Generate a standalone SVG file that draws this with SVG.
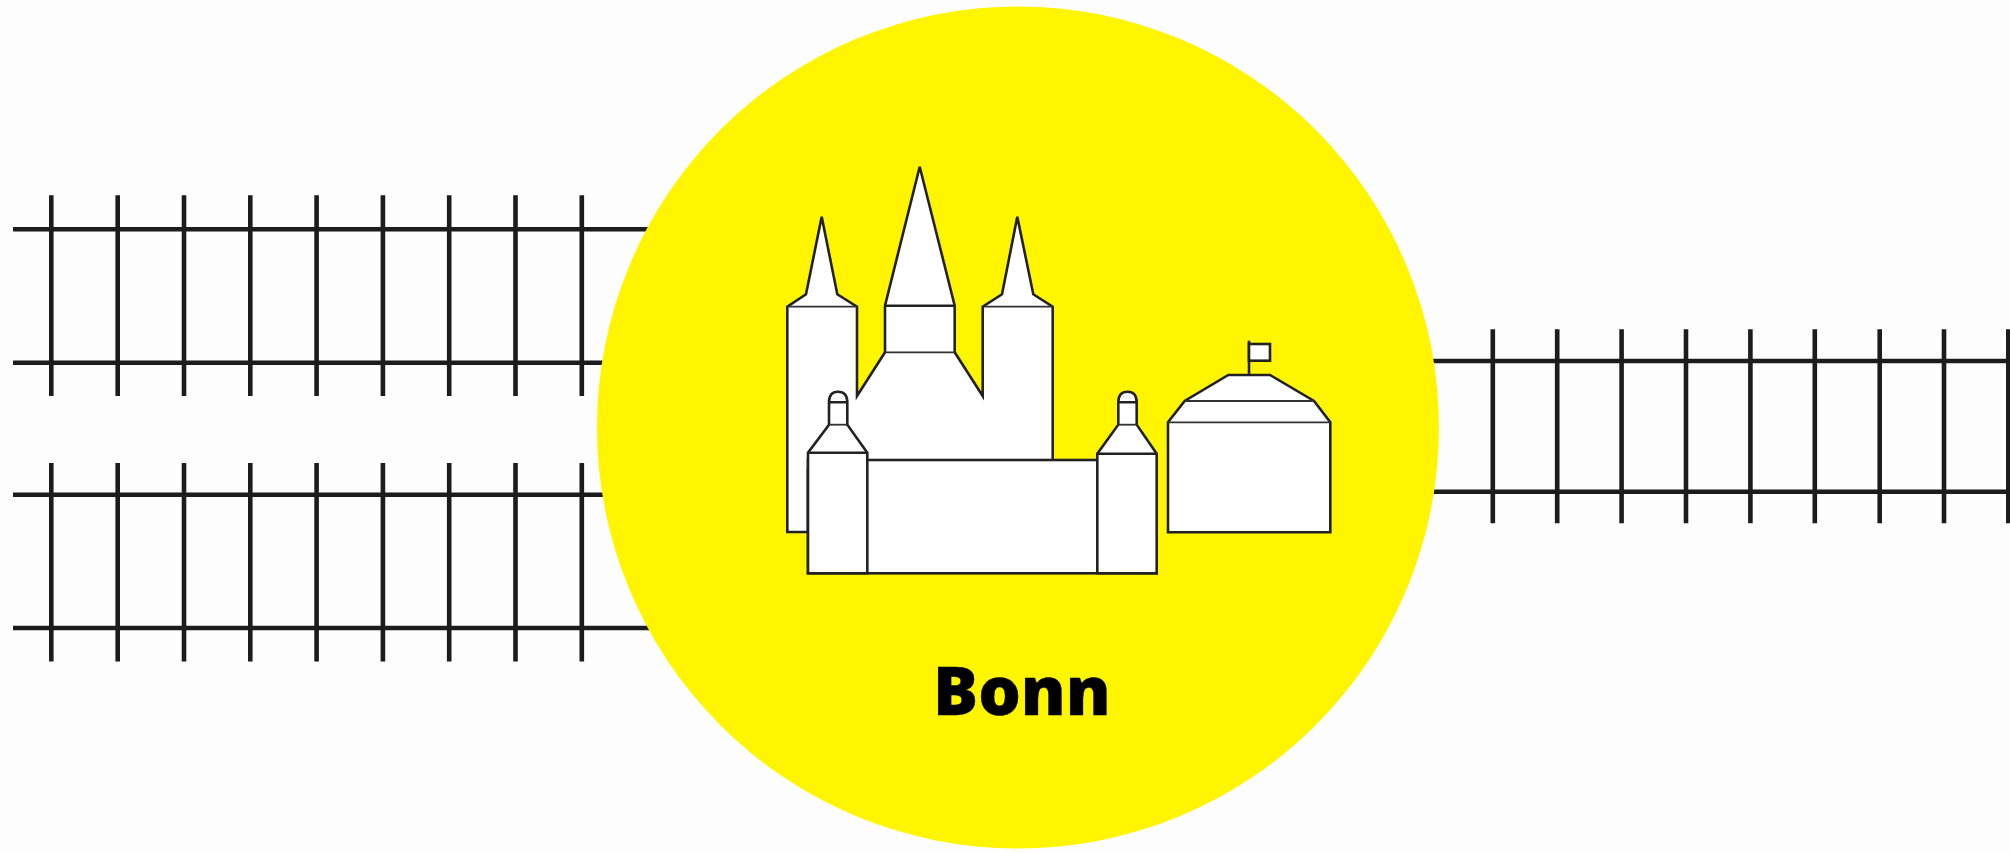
<svg xmlns="http://www.w3.org/2000/svg" width="2010" height="852" viewBox="0 0 2010 852">
<defs><filter id="soft" x="0" y="0" width="2010" height="852" filterUnits="userSpaceOnUse"><feGaussianBlur stdDeviation="0.55"/></filter></defs>
<style>
.r{stroke:#1c1c1c;stroke-width:4.6;fill:none}
.b{fill:#fff;stroke:#222;stroke-width:2.6;stroke-linejoin:miter}
.t{stroke:#333;stroke-width:1.8;fill:none}
.k{stroke:#222;stroke-width:2.6;fill:none}
.l{font-family:"Open Sans",sans-serif;font-weight:800;font-size:67px;fill:#000;stroke:#000;stroke-width:0.4}
</style>
<rect width="2010" height="852" fill="#fdfdfd"/>
<g filter="url(#soft)">
<g id="connectors">
<path class="r" d="M13 229.3H660M13 362.7H660M13 494.8H660M13 628H660"/>
<path class="r" d="M51.3 195.3V396M117.7 195.3V396M184 195.3V396M250.3 195.3V396M316.6 195.3V396M382.9 195.3V396M449.2 195.3V396M515.5 195.3V396M581.8 195.3V396"/>
<path class="r" d="M51.3 463V661.5M117.7 463V661.5M184 463V661.5M250.3 463V661.5M316.6 463V661.5M382.9 463V661.5M449.2 463V661.5M515.5 463V661.5M581.8 463V661.5"/>
<path class="r" d="M1400 361H2010M1400 491.7H2010"/>
<path class="r" d="M1492.8 329.3V523.3M1557.2 329.3V523.3M1621.6 329.3V523.3M1686 329.3V523.3M1750.4 329.3V523.3M1814.8 329.3V523.3M1879.7 329.3V523.3M1944 329.3V523.3M2008.3 329.3V523.3"/>
</g>
<g id="bonn-circle"><circle cx="1018" cy="427.5" r="421" fill="#fff506"/></g>
<g id="cathedral">
<path class="b" d="M787.3 532V306.7L806 294.3L821.7 216.7L837.3 294.3L857 306.7V396L885 352.3V305.7L919.7 166.7L954.7 305.7V352.3L982.7 396V306.7L1002 294.3L1017.3 216.7L1033.3 294.3L1052.7 306.7V470H808V532Z"/>
<path class="t" d="M787.3 306.7H857M982.7 306.7H1052.7M885 352.3H954.7"/>
<path class="k" d="M885 305.7H954.7"/>
</g>
<g id="castle">
<rect class="b" x="808" y="460" width="348.7" height="113.3"/>
<path class="b" d="M808 573.3V452.7L829 424.7V402.3Q829 391.7 838 391.7Q847.3 391.7 847.3 402.3V424.7L867.3 452.7V573.3Z"/>
<path class="t" d="M829 424.7H847.3"/>
<path class="k" d="M808 452.7H867.3M829 402.3H847.3"/>
<path class="b" d="M1097.3 573.3V453.7L1118.3 424.7V402.3Q1118.3 391.7 1127.5 391.7Q1136.7 391.7 1136.7 402.3V424.7L1156.7 453.7V573.3Z"/>
<path class="t" d="M1118.3 424.7H1136.7"/>
<path class="k" d="M1097.3 453.7H1156.7M1118.3 402.3H1136.7"/>
</g>
<g id="hall">
<path class="b" d="M1168 532.3V422.3L1184.7 401L1228.3 375H1270L1314 401L1330.3 422.3V532.3Z"/>
<path class="t" d="M1184.7 401H1314M1168 422.3H1330.3"/>
<path class="k" d="M1249 375V340.7"/>
<rect class="b" x="1249" y="344" width="21" height="16.7"/>
</g>
<g id="label"><text class="l" x="933" y="715">Bonn</text></g>
</g>
</svg>
